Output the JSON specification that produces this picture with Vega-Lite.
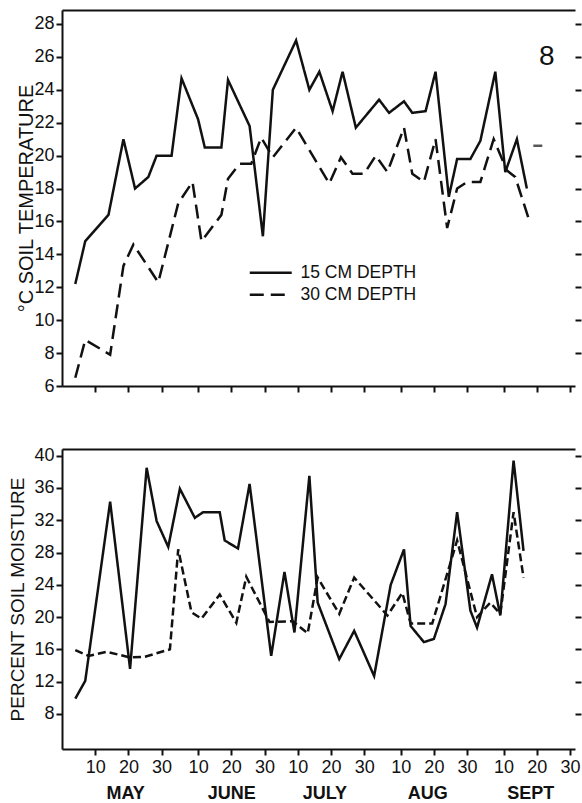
{
  "$schema": "https://vega.github.io/schema/vega-lite/v6.json",
  "background": "white",
  "padding": {"left": 8, "top": 10, "right": 0, "bottom": 0},
  "config": {
    "font": "Liberation Sans",
    "view": {"stroke": null},
    "axis": {
      "domainColor": "#111", "domainWidth": 2, "tickColor": "#111", "tickWidth": 2, "tickSize": 6,
      "labelColor": "#111", "labelFontSize": 18, "labelFont": "Liberation Sans", "labelPadding": 3,
      "titleColor": "#111", "titleFont": "Liberation Sans", "titleFontWeight": "normal", "grid": false,
      "labelOverlap": false, "labelFlush": false
    }
  },
  "datasets": {
    "temp": [
      {"day": 4, "depth": "15 CM DEPTH", "value": 12.2},
      {"day": 7, "depth": "15 CM DEPTH", "value": 14.8},
      {"day": 14, "depth": "15 CM DEPTH", "value": 16.4},
      {"day": 18.5, "depth": "15 CM DEPTH", "value": 21},
      {"day": 22, "depth": "15 CM DEPTH", "value": 18},
      {"day": 26, "depth": "15 CM DEPTH", "value": 18.7},
      {"day": 28.5, "depth": "15 CM DEPTH", "value": 20},
      {"day": 33, "depth": "15 CM DEPTH", "value": 20},
      {"day": 36, "depth": "15 CM DEPTH", "value": 24.7},
      {"day": 41, "depth": "15 CM DEPTH", "value": 22.2},
      {"day": 43, "depth": "15 CM DEPTH", "value": 20.5},
      {"day": 48, "depth": "15 CM DEPTH", "value": 20.5},
      {"day": 50, "depth": "15 CM DEPTH", "value": 24.6},
      {"day": 56.5, "depth": "15 CM DEPTH", "value": 21.8},
      {"day": 60.5, "depth": "15 CM DEPTH", "value": 15.1},
      {"day": 63.5, "depth": "15 CM DEPTH", "value": 24},
      {"day": 70.5, "depth": "15 CM DEPTH", "value": 27},
      {"day": 74.5, "depth": "15 CM DEPTH", "value": 24},
      {"day": 77.5, "depth": "15 CM DEPTH", "value": 25.1},
      {"day": 81.5, "depth": "15 CM DEPTH", "value": 22.7},
      {"day": 84.5, "depth": "15 CM DEPTH", "value": 25.1},
      {"day": 88.5, "depth": "15 CM DEPTH", "value": 21.7},
      {"day": 95.5, "depth": "15 CM DEPTH", "value": 23.4},
      {"day": 98.5, "depth": "15 CM DEPTH", "value": 22.6},
      {"day": 103, "depth": "15 CM DEPTH", "value": 23.3},
      {"day": 105.5, "depth": "15 CM DEPTH", "value": 22.6},
      {"day": 109.5, "depth": "15 CM DEPTH", "value": 22.7},
      {"day": 112.5, "depth": "15 CM DEPTH", "value": 25.1},
      {"day": 116.5, "depth": "15 CM DEPTH", "value": 17.5},
      {"day": 119, "depth": "15 CM DEPTH", "value": 19.8},
      {"day": 123, "depth": "15 CM DEPTH", "value": 19.8},
      {"day": 126, "depth": "15 CM DEPTH", "value": 20.9},
      {"day": 130.5, "depth": "15 CM DEPTH", "value": 25.1},
      {"day": 133.5, "depth": "15 CM DEPTH", "value": 19},
      {"day": 137, "depth": "15 CM DEPTH", "value": 21},
      {"day": 140, "depth": "15 CM DEPTH", "value": 18},
      {"day": 4, "depth": "30 CM DEPTH", "value": 6.5},
      {"day": 7, "depth": "30 CM DEPTH", "value": 8.8},
      {"day": 14.5, "depth": "30 CM DEPTH", "value": 7.9},
      {"day": 18.5, "depth": "30 CM DEPTH", "value": 13.3},
      {"day": 21.5, "depth": "30 CM DEPTH", "value": 14.6},
      {"day": 29, "depth": "30 CM DEPTH", "value": 12.3},
      {"day": 35, "depth": "30 CM DEPTH", "value": 17.1},
      {"day": 39.3, "depth": "30 CM DEPTH", "value": 18.4},
      {"day": 42, "depth": "30 CM DEPTH", "value": 14.8},
      {"day": 48, "depth": "30 CM DEPTH", "value": 16.4},
      {"day": 50, "depth": "30 CM DEPTH", "value": 18.6},
      {"day": 53.5, "depth": "30 CM DEPTH", "value": 19.5},
      {"day": 57, "depth": "30 CM DEPTH", "value": 19.5},
      {"day": 60, "depth": "30 CM DEPTH", "value": 21.1},
      {"day": 63.5, "depth": "30 CM DEPTH", "value": 19.9},
      {"day": 70.5, "depth": "30 CM DEPTH", "value": 21.7},
      {"day": 80.5, "depth": "30 CM DEPTH", "value": 18.3},
      {"day": 84, "depth": "30 CM DEPTH", "value": 19.9},
      {"day": 87.5, "depth": "30 CM DEPTH", "value": 18.9},
      {"day": 91, "depth": "30 CM DEPTH", "value": 18.9},
      {"day": 94.5, "depth": "30 CM DEPTH", "value": 20},
      {"day": 98, "depth": "30 CM DEPTH", "value": 19},
      {"day": 103, "depth": "30 CM DEPTH", "value": 21.7},
      {"day": 105.5, "depth": "30 CM DEPTH", "value": 18.9},
      {"day": 109, "depth": "30 CM DEPTH", "value": 18.4},
      {"day": 112.5, "depth": "30 CM DEPTH", "value": 21},
      {"day": 116, "depth": "30 CM DEPTH", "value": 15.6},
      {"day": 119, "depth": "30 CM DEPTH", "value": 18},
      {"day": 122, "depth": "30 CM DEPTH", "value": 18.4},
      {"day": 126, "depth": "30 CM DEPTH", "value": 18.4},
      {"day": 130, "depth": "30 CM DEPTH", "value": 21},
      {"day": 134, "depth": "30 CM DEPTH", "value": 19.1},
      {"day": 136.5, "depth": "30 CM DEPTH", "value": 18.7},
      {"day": 140.5, "depth": "30 CM DEPTH", "value": 16.2}
    ],
    "moist": [
      {"day": 4, "depth": "15 CM DEPTH", "value": 9.9},
      {"day": 7, "depth": "15 CM DEPTH", "value": 12.1},
      {"day": 14.5, "depth": "15 CM DEPTH", "value": 34.3},
      {"day": 20.5, "depth": "15 CM DEPTH", "value": 13.6},
      {"day": 25.5, "depth": "15 CM DEPTH", "value": 38.5},
      {"day": 28.5, "depth": "15 CM DEPTH", "value": 31.9},
      {"day": 32, "depth": "15 CM DEPTH", "value": 28.7},
      {"day": 35.5, "depth": "15 CM DEPTH", "value": 35.9},
      {"day": 40, "depth": "15 CM DEPTH", "value": 32.3},
      {"day": 42.5, "depth": "15 CM DEPTH", "value": 33},
      {"day": 47.5, "depth": "15 CM DEPTH", "value": 33},
      {"day": 49, "depth": "15 CM DEPTH", "value": 29.5},
      {"day": 53, "depth": "15 CM DEPTH", "value": 28.5},
      {"day": 56.5, "depth": "15 CM DEPTH", "value": 36.5},
      {"day": 63, "depth": "15 CM DEPTH", "value": 15.2},
      {"day": 67, "depth": "15 CM DEPTH", "value": 25.6},
      {"day": 70, "depth": "15 CM DEPTH", "value": 18.1},
      {"day": 74.5, "depth": "15 CM DEPTH", "value": 37.5},
      {"day": 77, "depth": "15 CM DEPTH", "value": 21.8},
      {"day": 83.5, "depth": "15 CM DEPTH", "value": 14.8},
      {"day": 88, "depth": "15 CM DEPTH", "value": 18.3},
      {"day": 94, "depth": "15 CM DEPTH", "value": 12.7},
      {"day": 99, "depth": "15 CM DEPTH", "value": 24},
      {"day": 103, "depth": "15 CM DEPTH", "value": 28.4},
      {"day": 105, "depth": "15 CM DEPTH", "value": 18.9},
      {"day": 109, "depth": "15 CM DEPTH", "value": 16.9},
      {"day": 112, "depth": "15 CM DEPTH", "value": 17.3},
      {"day": 115.5, "depth": "15 CM DEPTH", "value": 21.6},
      {"day": 119, "depth": "15 CM DEPTH", "value": 33},
      {"day": 123, "depth": "15 CM DEPTH", "value": 20.8},
      {"day": 125, "depth": "15 CM DEPTH", "value": 18.7},
      {"day": 129.5, "depth": "15 CM DEPTH", "value": 25.3},
      {"day": 132, "depth": "15 CM DEPTH", "value": 20.2},
      {"day": 136, "depth": "15 CM DEPTH", "value": 39.4},
      {"day": 139, "depth": "15 CM DEPTH", "value": 28.2},
      {"day": 4, "depth": "30 CM DEPTH", "value": 15.9},
      {"day": 8, "depth": "30 CM DEPTH", "value": 15.2},
      {"day": 13.5, "depth": "30 CM DEPTH", "value": 15.7},
      {"day": 20.5, "depth": "30 CM DEPTH", "value": 15},
      {"day": 25, "depth": "30 CM DEPTH", "value": 15.1},
      {"day": 32.5, "depth": "30 CM DEPTH", "value": 16},
      {"day": 35, "depth": "30 CM DEPTH", "value": 28.4},
      {"day": 39, "depth": "30 CM DEPTH", "value": 20.6},
      {"day": 42, "depth": "30 CM DEPTH", "value": 19.8},
      {"day": 47.5, "depth": "30 CM DEPTH", "value": 22.8},
      {"day": 52.5, "depth": "30 CM DEPTH", "value": 19.3},
      {"day": 55.5, "depth": "30 CM DEPTH", "value": 25},
      {"day": 62.5, "depth": "30 CM DEPTH", "value": 19.4},
      {"day": 69.5, "depth": "30 CM DEPTH", "value": 19.5},
      {"day": 74, "depth": "30 CM DEPTH", "value": 18},
      {"day": 77, "depth": "30 CM DEPTH", "value": 24.9},
      {"day": 83.5, "depth": "30 CM DEPTH", "value": 20.4},
      {"day": 88, "depth": "30 CM DEPTH", "value": 24.9},
      {"day": 98, "depth": "30 CM DEPTH", "value": 20.2},
      {"day": 102.5, "depth": "30 CM DEPTH", "value": 23},
      {"day": 105, "depth": "30 CM DEPTH", "value": 19.2},
      {"day": 111.5, "depth": "30 CM DEPTH", "value": 19.2},
      {"day": 119, "depth": "30 CM DEPTH", "value": 29.5},
      {"day": 125, "depth": "30 CM DEPTH", "value": 20},
      {"day": 129, "depth": "30 CM DEPTH", "value": 21.8},
      {"day": 132, "depth": "30 CM DEPTH", "value": 20.4},
      {"day": 136, "depth": "30 CM DEPTH", "value": 33},
      {"day": 139, "depth": "30 CM DEPTH", "value": 24.9}
    ],
    "stray": [{"day": 143.3, "value": 20.6}],
    "panel": [{"day": 146, "value": 26.0, "label": "8"}]
  },
  "spacing": 51,
  "resolve": {"scale": {"strokeDash": "independent"}, "legend": {"strokeDash": "independent"}},
  "vconcat": [
    {
      "width": 513,
      "height": 376,
      "resolve": {"axis": {"x": "independent", "y": "independent"}},
      "layer": [
        {
          "data": {"name": "temp"},
          "mark": {"type": "line", "color": "#111", "strokeWidth": 2.5},
          "encoding": {
            "x": {"field": "day", "type": "quantitative",
              "scale": {"domain": [0, 154.5], "nice": false, "zero": false},
              "axis": {"orient": "bottom", "values": [10, 20, 30, 41, 51, 61, 71, 81, 91, 102, 112, 122, 133, 143, 153], "labels": false, "title": null}},
            "y": {"field": "value", "type": "quantitative",
              "scale": {"domain": [6, 28.85], "nice": false, "zero": false},
              "axis": {"orient": "left", "values": [6, 8, 10, 12, 14, 16, 18, 20, 22, 24, 26, 28], "title": "°C SOIL TEMPERATURE", "titleFontSize": 20, "titlePadding": -3, "labelPadding": 2}},
            "strokeDash": {"field": "depth", "type": "nominal",
              "scale": {"domain": ["15 CM DEPTH", "30 CM DEPTH"], "range": [[1, 0], [14, 7]]},
              "legend": {"orient": "none", "legendX": 200, "legendY": 254, "title": null,
                "symbolType": "M-4,0H4", "symbolSize": 110, "symbolStrokeWidth": 2.5, "symbolStrokeColor": "#111",
                "labelFontSize": 17.5, "labelColor": "#111", "labelFont": "Liberation Sans", "labelOffset": 21, "rowPadding": 3}}
          }
        },
        {
          "data": {"name": "temp"},
          "mark": {"type": "point", "opacity": 0},
          "encoding": {
            "x": {"field": "day", "type": "quantitative",
              "axis": {"orient": "top", "ticks": false, "labels": false, "title": null}},
            "y": {"field": "value", "type": "quantitative",
              "axis": {"orient": "right", "domain": false, "labels": false, "title": null, "values": [8, 10, 12, 14, 16, 18, 20, 22, 24, 26, 28]}}
          }
        },
        {
          "data": {"name": "stray"},
          "mark": {"type": "tick", "orient": "horizontal", "size": 9, "thickness": 2.5, "color": "#111"},
          "encoding": {
            "x": {"field": "day", "type": "quantitative", "axis": null},
            "y": {"field": "value", "type": "quantitative", "axis": null}
          }
        },
        {
          "data": {"name": "panel"},
          "mark": {"type": "text", "fontSize": 28, "font": "Liberation Sans", "color": "#111"},
          "encoding": {
            "x": {"field": "day", "type": "quantitative", "axis": null},
            "y": {"field": "value", "type": "quantitative", "axis": null},
            "text": {"field": "label"}
          }
        }
      ]
    },
    {
      "width": 513,
      "height": 300,
      "resolve": {"axis": {"x": "independent", "y": "independent"}},
      "layer": [
        {
          "data": {"name": "moist"},
          "mark": {"type": "line", "color": "#111", "strokeWidth": 2.5},
          "encoding": {
            "x": {"field": "day", "type": "quantitative",
              "scale": {"domain": [0, 154.5], "nice": false, "zero": false},
              "axis": {"orient": "bottom", "values": [10, 20, 30, 41, 51, 61, 71, 81, 91, 102, 112, 122, 133, 143, 153], "title": null,
                "labelExpr": "'' + (datum.value <= 31 ? datum.value : datum.value <= 61 ? datum.value - 31 : datum.value <= 92 ? datum.value - 61 : datum.value <= 123 ? datum.value - 92 : datum.value - 123)"}},
            "y": {"field": "value", "type": "quantitative",
              "scale": {"domain": [3.66, 40.83], "nice": false, "zero": false},
              "axis": {"orient": "left", "values": [8, 12, 16, 20, 24, 28, 32, 36, 40], "title": "PERCENT SOIL MOISTURE", "titleFontSize": 19, "titlePadding": 6, "labelPadding": 2}},
            "strokeDash": {"field": "depth", "type": "nominal",
              "scale": {"domain": ["15 CM DEPTH", "30 CM DEPTH"], "range": [[1, 0], [8, 4]]},
              "legend": null}
          }
        },
        {
          "data": {"name": "moist"},
          "mark": {"type": "point", "opacity": 0},
          "encoding": {
            "x": {"field": "day", "type": "quantitative",
              "axis": {"orient": "top", "ticks": false, "labels": false, "title": null}},
            "y": {"field": "value", "type": "quantitative",
              "axis": {"orient": "right", "domain": false, "labels": false, "title": null, "values": [8, 12, 16, 20, 24, 28, 32, 36, 40]}}
          }
        },
        {
          "data": {"name": "moist"},
          "mark": {"type": "point", "opacity": 0},
          "encoding": {
            "x": {"field": "day", "type": "quantitative",
              "axis": {"orient": "bottom", "domain": false, "ticks": false, "tickSize": 0, "title": null,
                "values": [19, 51, 79, 110, 141], "labelPadding": 35, "labelFontWeight": "bold", "labelFontSize": 18,
                "labelExpr": "datum.value < 30 ? 'MAY' : datum.value < 60 ? 'JUNE' : datum.value < 90 ? 'JULY' : datum.value < 120 ? 'AUG' : 'SEPT'"}},
            "y": {"field": "value", "type": "quantitative", "axis": null}
          }
        }
      ]
    }
  ]
}
